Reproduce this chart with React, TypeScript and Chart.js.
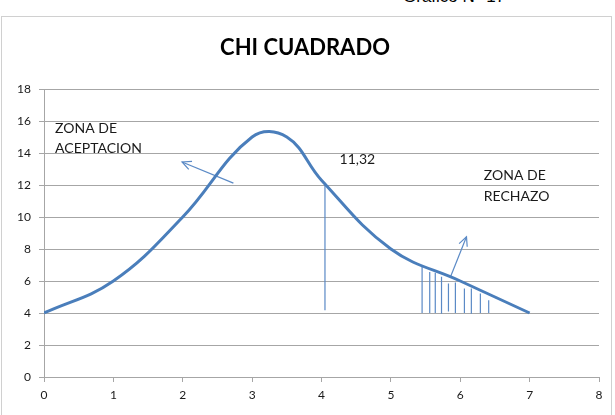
import React, { useEffect, useRef } from "react";
import { Chart, registerables } from "chart.js";

Chart.register(...registerables);

// Main curve
const curveX = [0, 1, 2, 3, 3.5, 4, 5, 6, 7];
const curveY = [4, 6, 10, 15, 15, 12.3, 8, 6, 4];

// Axis ticks
const xTicks = [0, 1, 2, 3, 4, 5, 6, 7, 8];
const yTicks = [0, 2, 4, 6, 8, 10, 12, 14, 16, 18];

// Critical value line (11,32)
const critLineX = [4.05, 4.05];
const critLineY = [12.12, 4.17];

// Hatch lines in rejection zone
const hatchX = [5.45, 5.56, 5.64, 5.73, 5.83, 5.93, 6.06, 6.16, 6.29, 6.41];
const hatchTop = [6.99, 6.57, 6.51, 6.26, 5.84, 5.91, 5.53, 5.53, 5.22, 4.8];
const hatchBottom = [4.0, 4.0, 4.0, 3.95, 4.1, 4.0, 4.0, 3.95, 4.0, 4.0];

// Arrows [fromX, fromY, toX, toY]
const arrowAccept = [2.73, 12.12, 1.99, 13.44];
const arrowReject = [5.86, 6.26, 6.09, 8.76];

// Text labels
const labelTexts = ["ZONA DE", "ACEPTACION", "11,32", "ZONA DE", "RECHAZO"];
const labelX = [0.16, 0.16, 4.26, 6.34, 6.34];
const labelY = [15.56, 14.31, 13.6, 12.62, 11.31];

const titleText = "CHI CUADRADO";
const captionText = "Gráfico N° 17";

const LINE_BLUE = "#4a7ebb";
const THIN_BLUE = "#5b8ac6";
const GRID = "#a6a6a6";

export default function App() {
  const ref = useRef<HTMLCanvasElement | null>(null);

  useEffect(() => {
    if (!ref.current) return;
    const datasets: any[] = [
      {
        data: curveX.map((x, i) => ({ x, y: curveY[i] })),
        showLine: true,
        borderColor: LINE_BLUE,
        borderWidth: 3,
        pointRadius: 0,
        tension: 0.4,
      },
      {
        data: [
          { x: critLineX[0], y: critLineY[0] },
          { x: critLineX[1], y: critLineY[1] },
        ],
        showLine: true,
        borderColor: THIN_BLUE,
        borderWidth: 1.2,
        pointRadius: 0,
      },
      {
        data: [
          { x: arrowAccept[0], y: arrowAccept[1] },
          { x: arrowAccept[2], y: arrowAccept[3] },
        ],
        showLine: true,
        borderColor: THIN_BLUE,
        borderWidth: 1.2,
        pointRadius: 0,
      },
      {
        data: [
          { x: arrowReject[0], y: arrowReject[1] },
          { x: arrowReject[2], y: arrowReject[3] },
        ],
        showLine: true,
        borderColor: THIN_BLUE,
        borderWidth: 1.2,
        pointRadius: 0,
      },
    ];
    hatchX.forEach((hx, i) => {
      datasets.push({
        data: [
          { x: hx, y: hatchTop[i] },
          { x: hx, y: hatchBottom[i] },
        ],
        showLine: true,
        borderColor: THIN_BLUE,
        borderWidth: 1.2,
        pointRadius: 0,
      });
    });

    const annot = {
      id: "annot",
      afterDatasetsDraw(chart: any) {
        const ctx = chart.ctx;
        const xs = chart.scales.x;
        const ys = chart.scales.y;
        ctx.save();
        const head = (a: number[]) => {
          const x1 = xs.getPixelForValue(a[0]);
          const y1 = ys.getPixelForValue(a[1]);
          const x2 = xs.getPixelForValue(a[2]);
          const y2 = ys.getPixelForValue(a[3]);
          const ang = Math.atan2(y2 - y1, x2 - x1);
          const L = 10;
          ctx.strokeStyle = THIN_BLUE;
          ctx.lineWidth = 1.2;
          ctx.beginPath();
          ctx.moveTo(x2 - L * Math.cos(ang - 0.45), y2 - L * Math.sin(ang - 0.45));
          ctx.lineTo(x2, y2);
          ctx.lineTo(x2 - L * Math.cos(ang + 0.45), y2 - L * Math.sin(ang + 0.45));
          ctx.stroke();
        };
        head(arrowAccept);
        head(arrowReject);
        ctx.fillStyle = "#1a1a1a";
        ctx.font = "14px Lato";
        ctx.textAlign = "left";
        ctx.textBaseline = "middle";
        labelTexts.forEach((t, i) => {
          ctx.fillText(t, xs.getPixelForValue(labelX[i]), ys.getPixelForValue(labelY[i]));
        });
        ctx.font = "bold 22px Lato";
        ctx.fillStyle = "#000";
        ctx.textAlign = "center";
        ctx.fillText(titleText, 305, 48);
        ctx.restore();
      },
    };

    const chart = new Chart(ref.current, {
      type: "scatter",
      data: { datasets },
      plugins: [annot],
      options: {
        animation: false,
        responsive: false,
        events: [],
        layout: { padding: { top: 89, right: 16, left: 0, bottom: 0 } },
        plugins: { legend: { display: false }, tooltip: { enabled: false }, title: { display: false } },
        scales: {
          x: {
            type: "linear",
            min: 0,
            max: 8,
            afterBuildTicks: (s: any) => {
              s.ticks = xTicks.map((v) => ({ value: v }));
            },
            afterFit: (s: any) => {
              s.height = 38;
            },
            ticks: { color: "#1a1a1a", font: { family: "Lato", size: 12 }, padding: 6 },
            grid: { drawOnChartArea: false, drawTicks: true, tickLength: 5, color: GRID },
            border: { color: GRID, width: 1 },
          },
          y: {
            type: "linear",
            min: 0,
            max: 18,
            afterBuildTicks: (s: any) => {
              s.ticks = yTicks.map((v) => ({ value: v }));
            },
            afterFit: (s: any) => {
              s.width = 44;
            },
            ticks: { color: "#1a1a1a", font: { family: "Lato", size: 12 }, padding: 8 },
            grid: { color: GRID, tickLength: 5, lineWidth: 1 },
            border: { color: GRID, width: 1 },
          },
        },
      },
    });
    return () => chart.destroy();
  }, []);

  return (
    <div style={{ position: "fixed", left: 0, top: 0, width: 615, height: 415, background: "#fff", overflow: "hidden" }}>
      <div
        style={{
          position: "absolute",
          left: 403,
          top: -13,
          fontFamily: "'Liberation Sans', Arial, sans-serif",
          fontSize: 17,
          color: "#000",
          whiteSpace: "nowrap",
        }}
      >
        {captionText}
      </div>
      <div
        style={{
          position: "absolute",
          left: 1,
          top: 16,
          width: 609,
          height: 420,
          border: "1px solid #d0d0d0",
        }}
      />
      <canvas ref={ref} width={615} height={415} style={{ position: "absolute", left: 0, top: 0 }} />
    </div>
  );
}
